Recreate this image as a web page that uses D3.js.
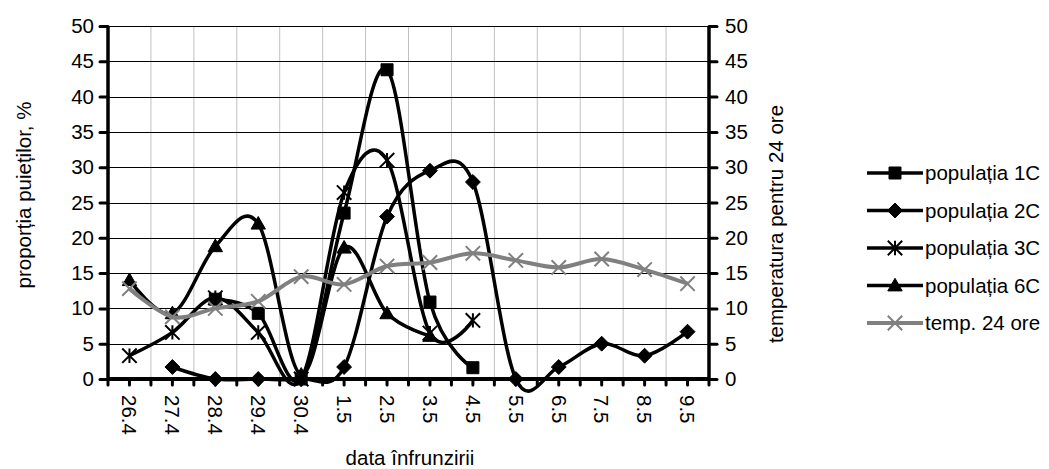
<!DOCTYPE html>
<html>
<head>
<meta charset="utf-8">
<script src="https://cdn.jsdelivr.net/npm/d3@7"></script>
<style>
  body { margin: 0; background: #fff; }
  text { font-family: 'Liberation Sans', Arial, sans-serif; fill: #000; }
</style>
</head>
<body>
<div id="chart"></div>
<script>
'use strict';

var dates   = ['26.4', '27.4', '28.4', '29.4', '30.4', '1.5', '2.5', '3.5', '4.5', '5.5', '6.5', '7.5', '8.5', '9.5'];
var pop1C   = [null, null, 11.3, 9.3, 0, 23.5, 43.8, 10.9, 1.6, null, null, null, null, null];
var pop2C   = [null, 1.7, 0, 0, 0, 1.7, 23, 29.5, 27.9, 0, 1.7, 5, 3.3, 6.7];
var pop3C   = [3.3, 6.6, 11.5, 6.6, 0, 26.4, 31, 6.5, 8.3, null, null, null, null, null];
var pop6C   = [14, 9.3, 18.8, 22, 0.6, 18.6, 9.3, 6.1, null, null, null, null, null, null];
var temp24  = [12.8, 8.8, 10, 11, 14.5, 13.4, 16, 16.5, 17.8, 16.8, 15.8, 17, 15.5, 13.5];
var yTicks  = [0, 5, 10, 15, 20, 25, 30, 35, 40, 45, 50];

var seriesNames = ['populația 1C', 'populația 2C', 'populația 3C', 'populația 6C', 'temp. 24 ore'];

var W = 1049, H = 469;
var plotL = 108, plotR = 709, plotT = 26, plotB = 379;
var fontSize = '20.5px';

var series = [
    { name: seriesNames[0], values: pop1C,  color: '#000', marker: 'square',   axis: 'left' }
  , { name: seriesNames[1], values: pop2C,  color: '#000', marker: 'diamond',  axis: 'left' }
  , { name: seriesNames[2], values: pop3C,  color: '#000', marker: 'star',     axis: 'left' }
  , { name: seriesNames[3], values: pop6C,  color: '#000', marker: 'triangle', axis: 'left' }
  , { name: seriesNames[4], values: temp24, color: '#808080', marker: 'x',     axis: 'right' }
];

var svg = d3.select('#chart')
  .append('svg')
  .attr('width', W)
  .attr('height', H);

var x = d3.scaleBand().domain(dates).range([plotL, plotR]);
var y = d3.scaleLinear().domain([0, 50]).range([plotB, plotT]);
var yR = d3.scaleLinear().domain([0, 50]).range([plotB, plotT]);

function cx(d) { return x(d) + x.bandwidth() / 2; }

// grid
svg.append('g')
  .selectAll('line')
  .data(dates.slice(1))
  .join('line')
  .attr('x1', function (d) { return x(d); })
  .attr('x2', function (d) { return x(d); })
  .attr('y1', plotT)
  .attr('y2', plotB)
  .style('stroke', '#c0c0c0')
  .style('stroke-width', 1);

svg.append('g')
  .selectAll('line')
  .data(yTicks.slice(1))
  .join('line')
  .attr('x1', plotL)
  .attr('x2', plotR)
  .attr('y1', function (d) { return Math.round(y(d)) + 0.5; })
  .attr('y2', function (d) { return Math.round(y(d)) + 0.5; })
  .style('stroke', '#000')
  .style('stroke-width', 1);

// markers
function markerPath(type, s) {
  var p = d3.path();
  if (type === 'square') {
    p.rect(-s / 2, -s / 2, s, s);
  } else if (type === 'diamond') {
    var r = s * 0.62;
    p.moveTo(0, -r); p.lineTo(r, 0); p.lineTo(0, r); p.lineTo(-r, 0); p.closePath();
  } else if (type === 'triangle') {
    p.moveTo(0, -s * 0.6); p.lineTo(s * 0.6, s * 0.45); p.lineTo(-s * 0.6, s * 0.45); p.closePath();
  } else if (type === 'star') {
    var a = s * 0.6;
    p.moveTo(0, -a); p.lineTo(0, a);
    p.moveTo(-a, -a); p.lineTo(a, a);
    p.moveTo(-a, a); p.lineTo(a, -a);
  } else if (type === 'x') {
    var b = s * 0.6;
    p.moveTo(-b, -b); p.lineTo(b, b);
    p.moveTo(-b, b); p.lineTo(b, -b);
  }
  return p.toString();
}

function drawMarker(g, type, color) {
  var filled = (type === 'square' || type === 'diamond' || type === 'triangle');
  g.append('path')
    .attr('d', markerPath(type, 12))
    .style('fill', filled ? color : 'none')
    .style('stroke', color)
    .style('stroke-width', (type === 'x' || type === 'star') ? 2 : 1);
}

// series
var line = d3.line()
  .defined(function (d) { return d.v !== null; })
  .x(function (d) { return cx(d.date); })
  .curve(d3.curveCardinal.tension(0));

series.forEach(function (s) {
  var sc = s.axis === 'left' ? y : yR;
  var pts = s.values.map(function (v, i) { return { date: dates[i], v: v }; });
  line.y(function (d) { return sc(d.v); });
  var g = svg.append('g');
  g.append('path')
    .attr('d', line(pts))
    .style('fill', 'none')
    .style('stroke', s.color)
    .style('stroke-width', s.marker === 'x' ? 4 : 3.5)
    .style('stroke-linejoin', 'round');
  pts.filter(function (d) { return d.v !== null; }).forEach(function (d) {
    var m = g.append('g').attr('transform', 'translate(' + cx(d.date) + ',' + sc(d.v) + ')');
    drawMarker(m, s.marker, s.color);
  });
});

// axes
var axisL = svg.append('g')
  .attr('transform', 'translate(' + plotL + ',0)')
  .call(d3.axisLeft(y).tickValues(yTicks).tickSize(8).tickPadding(6));
var axisR = svg.append('g')
  .attr('transform', 'translate(' + plotR + ',0)')
  .call(d3.axisRight(yR).tickValues(yTicks).tickSize(8).tickPadding(8));

[axisL, axisR].forEach(function (a) {
  a.select('.domain').remove();
  a.selectAll('.tick line').style('stroke', '#000').style('stroke-width', 3).style('stroke-linecap', 'round');
  a.selectAll('.tick text').style('font-size', fontSize).style('font-family', "'Liberation Sans', Arial, sans-serif");
});

svg.append('line')
  .attr('x1', plotL).attr('x2', plotL).attr('y1', plotT).attr('y2', plotB + 1)
  .style('stroke', '#000').style('stroke-width', 3.5);
svg.append('line')
  .attr('x1', plotR).attr('x2', plotR).attr('y1', plotT).attr('y2', plotB + 1)
  .style('stroke', '#000').style('stroke-width', 3.5);

// x axis ticks at band edges and centres
var halfTicks = [];
dates.forEach(function (d) { halfTicks.push(x(d)); halfTicks.push(cx(d)); });
halfTicks.push(plotR);

svg.append('g')
  .selectAll('line')
  .data(halfTicks)
  .join('line')
  .attr('x1', function (d) { return d; })
  .attr('x2', function (d) { return d; })
  .attr('y1', plotB)
  .attr('y2', plotB + 6)
  .style('stroke', '#000')
  .style('stroke-width', 3)
  .style('stroke-linecap', 'round');

svg.append('line')
  .attr('x1', plotL - 1).attr('x2', plotR + 1).attr('y1', plotB).attr('y2', plotB)
  .style('stroke', '#000').style('stroke-width', 4);

svg.append('g')
  .selectAll('text')
  .data(dates)
  .join('text')
  .attr('transform', function (d) { return 'translate(' + cx(d) + ',' + (plotB + 16) + ') rotate(90)'; })
  .attr('dy', '0.35em')
  .style('font-size', fontSize)
  .text(function (d) { return d; });

// titles
svg.append('text')
  .attr('x', 410)
  .attr('y', 465)
  .attr('text-anchor', 'middle')
  .style('font-size', fontSize)
  .text('data înfrunzirii');

svg.append('text')
  .attr('transform', 'translate(31,195) rotate(-90)')
  .attr('text-anchor', 'middle')
  .style('font-size', fontSize)
  .text('proporția puieților, %');

svg.append('text')
  .attr('transform', 'translate(783,224) rotate(-90)')
  .attr('text-anchor', 'middle')
  .style('font-size', fontSize)
  .text('temperatura pentru 24 ore');

// legend
var legend = svg.append('g');
var rowY = d3.scaleLinear().domain([0, 4]).range([173, 323]);

series.forEach(function (s, i) {
  var g = legend.append('g').attr('transform', 'translate(0,' + rowY(i) + ')');
  g.append('line')
    .attr('x1', 867).attr('x2', 923)
    .style('stroke', s.color)
    .style('stroke-width', s.marker === 'x' ? 4 : 3.5);
  var m = g.append('g').attr('transform', 'translate(895,0)');
  drawMarker(m, s.marker, s.color);
  g.append('text')
    .attr('x', 925)
    .attr('dy', '0.35em')
    .style('font-size', fontSize)
    .text(s.name);
});
</script>
</body>
</html>
